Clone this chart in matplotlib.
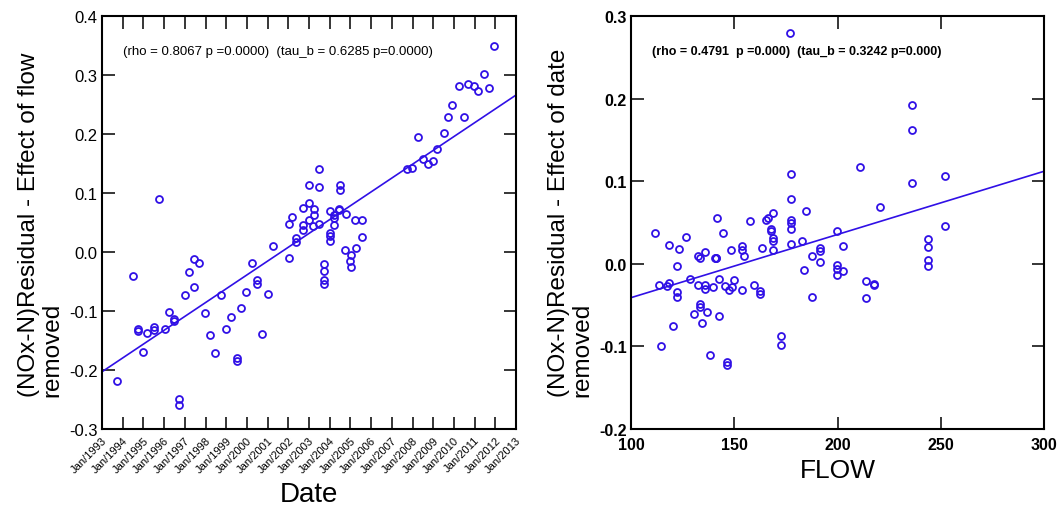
import matplotlib
matplotlib.use("Agg")
import matplotlib.pyplot as plt
import numpy as np

plt.rcParams['font.family'] = ['Liberation Sans', 'DejaVu Sans']

# ---------------- data ----------------
# Left panel: residual (effect of flow removed) vs date (decimal years)
date_years = [1993.74, 1994.49, 1994.75, 1994.75, 1994.98, 1995.17, 1995.51, 1995.51, 1995.74,
              1996.04, 1996.24, 1996.48, 1996.48, 1996.72, 1996.72, 1997.02, 1997.20, 1997.46,
              1997.46, 1997.70, 1997.98, 1998.23, 1998.47, 1998.76, 1998.99, 1999.24, 1999.50,
              1999.50, 1999.73, 1999.97, 2000.24, 2000.48, 2000.48, 2000.75, 2001.02, 2001.24,
              2002.02, 2002.02, 2002.19, 2002.39, 2002.39, 2002.71, 2002.71, 2002.71, 2002.98,
              2002.98, 2002.98, 2003.20, 2003.22, 2003.22, 2003.47, 2003.47, 2003.47, 2003.74,
              2003.74, 2003.74, 2003.74, 2004.00, 2004.00, 2004.00, 2004.00, 2004.22, 2004.22,
              2004.22, 2004.46, 2004.46, 2004.50, 2004.50, 2004.76, 2004.77, 2005.00, 2005.03,
              2005.03, 2005.22, 2005.25, 2005.54, 2005.54, 2007.73, 2007.99, 2008.25, 2008.50,
              2008.73, 2008.97, 2009.20, 2009.50, 2009.73, 2009.92, 2010.23, 2010.47, 2010.70,
              2010.96, 2011.18, 2011.47, 2011.70, 2011.95]
resid_flow_removed = [-0.218, -0.041, -0.131, -0.134, -0.170, -0.138, -0.127, -0.132, 0.089,
                      -0.131, -0.102, -0.114, -0.117, -0.249, -0.260, -0.073, -0.034, -0.012,
                      -0.059, -0.018, -0.103, -0.141, -0.171, -0.073, -0.131, -0.111, -0.180,
                      -0.184, -0.095, -0.067, -0.019, -0.048, -0.054, -0.139, -0.072, 0.011,
                      0.047, -0.010, 0.060, 0.023, 0.017, 0.074, 0.045, 0.038, 0.114,
                      0.0825, 0.054, 0.044, 0.073, 0.063, 0.141, 0.111, 0.048, -0.021,
                      -0.033, -0.048, -0.055, 0.070, 0.032, 0.027, 0.018, 0.062, 0.058,
                      0.045, 0.073, 0.071, 0.114, 0.105, 0.004, 0.064, -0.015, -0.005,
                      -0.025, 0.055, 0.006, 0.055, 0.025, 0.141, 0.142, 0.195, 0.158,
                      0.149, 0.154, 0.175, 0.202, 0.229, 0.249, 0.281, 0.228, 0.285,
                      0.282, 0.273, 0.302, 0.278, 0.349]
date_trend_x = [1993, 2013]
date_trend_y = [-0.203, 0.266]
date_tick_years = list(range(1993, 2014))
date_tick_labels = ["Jan/%d" % y for y in date_tick_years]
stats_left = "(rho = 0.8067 p =0.0000)  (tau_b = 0.6285 p=0.0000)"

# Right panel: residual (effect of date removed) vs flow
flow = [176.8, 235.9, 235.9, 177.6, 210.7, 235.9, 251.9, 177.6, 184.7, 220.7, 168.8, 166.5,
        165.4, 157.6, 141.6, 177.6, 177.6, 177.6, 167.6, 167.6, 168.8, 168.8, 168.8, 177.6,
        182.6, 199.8, 202.7, 191.5, 191.5, 187.5, 191.5, 183.6, 199.8, 199.8, 199.8, 202.8,
        187.5, 213.6, 217.7, 217.7, 213.6, 243.8, 243.8, 243.8, 243.8, 251.9, 172.6, 172.6,
        163.6, 159.6, 162.6, 162.6, 153.6, 153.6, 154.6, 153.6, 148.6, 149.7, 148.9, 147.3,
        145.4, 142.6, 144.6, 141.0, 140.8, 141.1, 139.6, 135.8, 135.8, 132.4, 135.7, 132.4,
        133.6, 133.4, 133.4, 136.6, 130.5, 134.5, 142.5, 138.4, 146.5, 146.5, 128.6, 126.6,
        123.4, 118.5, 122.4, 122.4, 122.4, 118.5, 117.6, 113.4, 111.5, 120.5, 114.5]
resid_date_removed = [0.280, 0.192, 0.162, 0.109, 0.117, 0.098, 0.106, 0.079, 0.064, 0.069, 0.062, 0.055,
                      0.053, 0.052, 0.055, 0.053, 0.049, 0.042, 0.042, 0.040, 0.031, 0.027, 0.017, 0.024,
                      0.028, 0.040, 0.021, 0.019, 0.015, 0.010, 0.002, -0.008, -0.001, -0.006, -0.013, -0.009,
                      -0.040, -0.021, -0.025, -0.026, -0.042, 0.030, 0.020, 0.005, -0.003, 0.046, -0.087, -0.098,
                      0.019, -0.026, -0.033, -0.037, 0.021, 0.017, 0.010, -0.032, 0.017, -0.020, -0.028, -0.032,
                      -0.027, -0.018, 0.037, 0.007, 0.007, 0.007, -0.028, -0.026, -0.030, -0.026, 0.014, 0.009,
                      0.007, -0.049, -0.052, -0.058, -0.061, -0.072, -0.063, -0.110, -0.119, -0.122, -0.018, 0.033,
                      0.018, 0.023, -0.003, -0.034, -0.040, -0.023, -0.027, -0.026, 0.037, -0.075, -0.099]
flow_trend_x = [100, 300]
flow_trend_y = [-0.041, 0.112]
flow_ticks = [100, 150, 200, 250, 300]
stats_right = "(rho = 0.4791  p =0.000)  (tau_b = 0.3242 p=0.000)"

# ---------------- figure ----------------
W, H = 1060, 510
fig = plt.figure(figsize=(W / 100, H / 100), dpi=100)
blue = '#3010e6'

def box(l, t, r, b):
    return [l / W, 1 - b / H, (r - l) / W, (b - t) / H]

def style(ax):
    for s in ax.spines.values():
        s.set_linewidth(1.5)
    ax.tick_params(direction='in', length=9, width=1.1, top=True, right=True,
                   colors='black')

# Left panel
ax1 = fig.add_axes(box(102, 17, 516, 430))
ax1.plot(date_years, resid_flow_removed, 'o', ms=5, mfc='none', mec=blue, mew=1.3)
ax1.plot(date_trend_x, date_trend_y, '-', color=blue, lw=1.2)
ax1.set_xlim(1993, 2013)
ax1.set_ylim(-0.3, 0.4)
style(ax1)
ax1.set_xticks(date_tick_years)
ax1.set_xticklabels(date_tick_labels, rotation=45, ha='right', rotation_mode='anchor',
                    fontsize=8)
ax1.tick_params(axis='x', pad=4)
ax1.set_yticks(np.arange(-0.3, 0.41, 0.1))
ax1.set_yticklabels(['%.1f' % v for v in np.arange(-0.3, 0.41, 0.1)], fontsize=12)
ax1.tick_params(axis='y', pad=3)
ax1.text(0.05, 0.915, stats_left, transform=ax1.transAxes, fontsize=9.5,
         ha='left', va='center')
fig.text(0.5 * (102 + 516) / W, 1 - 495 / H, 'Date', fontsize=20, ha='center', va='center')
fig.text(41 / W, 1 - 397 / H, '(NOx-N)Residual - Effect of flow\nremoved', fontsize=17.5,
         rotation=90, rotation_mode='anchor', ha='left', va='center', multialignment='left',
         linespacing=1.1)

# Right panel
ax2 = fig.add_axes(box(631, 17, 1044, 430))
ax2.plot(flow, resid_date_removed, 'o', ms=5, mfc='none', mec=blue, mew=1.3)
ax2.plot(flow_trend_x, flow_trend_y, '-', color=blue, lw=1.2)
ax2.set_xlim(100, 300)
ax2.set_ylim(-0.2, 0.3)
style(ax2)
ax2.set_xticks(flow_ticks)
ax2.set_xticklabels([str(v) for v in flow_ticks], fontsize=11.5, fontweight='bold')
ax2.set_yticks(np.arange(-0.2, 0.31, 0.1))
ax2.set_yticklabels(['%.1f' % v for v in np.arange(-0.2, 0.31, 0.1)], fontsize=11.5,
                    fontweight='bold')
ax2.tick_params(axis='x', pad=6)
ax2.tick_params(axis='y', pad=3)
ax2.text(0.05, 0.915, stats_right, transform=ax2.transAxes, fontsize=9,
         fontweight='bold', ha='left', va='center')
fig.text(0.5 * (631 + 1044) / W, 1 - 471 / H, 'FLOW', fontsize=19, ha='center', va='center')
fig.text(571 / W, 1 - 397 / H, '(NOx-N)Residual - Effect of date\nremoved', fontsize=17.5,
         rotation=90, rotation_mode='anchor', ha='left', va='center', multialignment='left',
         linespacing=1.1)

fig.savefig('out.png', dpi=100)
